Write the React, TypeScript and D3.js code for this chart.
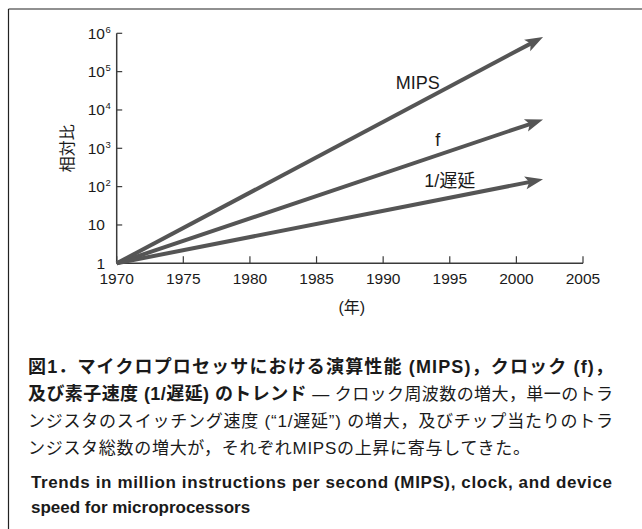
import React from "react";
import * as d3 from "d3";

// Trend series: growth relative to 1970, drawn as straight arrows on a log scale
const seriesNames = ["MIPS", "f", "1/遅延"];
const startYear = 1970;
const endYear = 2002;
const startValues = [1, 1, 1];
const endValues = [8e5, 5.6e3, 155];
// where each series label sits along its arrow (year), and how far above it
const labelYears = [1992.6, 1994.1, 1995];
const labelOffsets = [14, 9, 11];

const xTicks = [1970, 1975, 1980, 1985, 1990, 1995, 2000, 2005];
const yTickExps = [0, 1, 2, 3, 4, 5, 6];

const captionJaBold1 = "図1．マイクロプロセッサにおける演算性能 (MIPS)，クロック (f)，";
const captionJaBold2 = "及び素子速度 (1/遅延) のトレンド";
const captionJaRest2 = " ― クロック周波数の増大，単一のトラ";
const captionJaBody = [
  "ンジスタのスイッチング速度 (“1/遅延”) の増大，及びチップ当たりのトラ",
  "ンジスタ総数の増大が，それぞれMIPSの上昇に寄与してきた。",
];
const captionEn = [
  "Trends in million instructions per second (MIPS), clock, and device",
  "speed for microprocessors",
];

const W = 642;
const H = 529;
const SANS = "'Liberation Sans', Arial, Helvetica, sans-serif";
const CJK = "'Liberation Sans', 'Noto Sans CJK JP', sans-serif";
const AXIS = "#3a3a3a";
const ARROW = "#555555";
const INK = "#1a1a1a";

export default function App() {
  const x = d3.scaleLinear().domain([1970, 2005]).range([116.7, 583]);
  const y = d3.scaleLog().domain([1, 1e6]).range([263.3, 33.3]);
  const x0 = x.range()[0];
  const y0 = y.range()[0];

  const headLen = 18;
  const headHalf = 6.5;

  const arrows = seriesNames.map((name, i) => {
    const sx = x(startYear);
    const sy = y(startValues[i]);
    const tx = x(endYear);
    const ty = y(endValues[i]);
    const dx = tx - sx;
    const dy = ty - sy;
    const len = Math.hypot(dx, dy);
    const ux = dx / len;
    const uy = dy / len;
    const nx = -uy;
    const ny = ux;
    const bx = tx - ux * headLen;
    const by = ty - uy * headLen;
    const notchX = tx - ux * (headLen - 4);
    const notchY = ty - uy * (headLen - 4);
    const head = [
      [tx, ty],
      [bx + nx * headHalf, by + ny * headHalf],
      [notchX, notchY],
      [bx - nx * headHalf, by - ny * headHalf],
    ];
    const line = d3.line()([
      [sx, sy],
      [notchX + ux * 1, notchY + uy * 1],
    ]);
    // label position: on the arrow at labelYear, lifted by offset
    const lx = x(labelYears[i]);
    const t = (lx - sx) / dx;
    const ly = sy + t * dy - labelOffsets[i];
    return { name, line, head, lx, ly };
  });

  return (
    <svg
      width={W}
      height={H}
      viewBox={`0 0 ${W} ${H}`}
      style={{ position: "absolute", left: 0, top: 0, background: "#fff" }}
    >
      <rect x={0} y={0} width={W} height={H} fill="#fff" />
      {/* open frame: top and left rules */}
      <line x1={8.5} y1={9} x2={W} y2={9} stroke="#222" strokeWidth={1.2} />
      <line x1={8.5} y1={9} x2={8.5} y2={H} stroke="#222" strokeWidth={1.2} />

      {/* axes */}
      <line x1={x0} y1={y(1e6)} x2={x0} y2={y0} stroke={AXIS} strokeWidth={1.5} />
      <line x1={x0} y1={y0} x2={x(2005)} y2={y0} stroke={AXIS} strokeWidth={1.5} />
      {yTickExps.map((e) => {
        const v = Math.pow(10, e);
        const ty = y(v);
        return (
          <g key={"y" + e}>
            <line x1={x0} x2={x0 + 5.5} y1={ty} y2={ty} stroke={AXIS} strokeWidth={1.2} />
            <text
              x={105}
              y={ty + 5.5}
              textAnchor="end"
              fontFamily={SANS}
              fontSize={15.5}
              fill={INK}
            >
              {e === 0 ? "1" : "10"}
            </text>
            {e > 1 && (
              <text x={105.5} y={ty - 0.5} fontFamily={SANS} fontSize={9.5} fill={INK}>
                {String(e)}
              </text>
            )}
          </g>
        );
      })}
      {xTicks.map((yr) => (
        <g key={"x" + yr}>
          <line
            x1={x(yr)}
            x2={x(yr)}
            y1={y0}
            y2={y0 - 7}
            stroke={AXIS}
            strokeWidth={1.2}
          />
          <text
            x={x(yr)}
            y={284}
            textAnchor="middle"
            fontFamily={SANS}
            fontSize={15.5}
            fill={INK}
          >
            {yr}
          </text>
        </g>
      ))}
      <text
        x={(x(1970) + x(2005)) / 2 + 2}
        y={313}
        textAnchor="middle"
        fontFamily={CJK}
        fontSize={16}
        fill={INK}
      >
        (年)
      </text>
      <text
        transform={`translate(73,${(y(1) + y(1e6)) / 2}) rotate(-90)`}
        textAnchor="middle"
        fontFamily={CJK}
        fontSize={16}
        fill={INK}
      >
        相対比
      </text>

      {/* trend arrows */}
      {arrows.map((a) => (
        <g key={a.name}>
          <path d={a.line ?? ""} stroke={ARROW} strokeWidth={4} fill="none" />
          <polygon points={a.head.map((p) => p.join(",")).join(" ")} fill={ARROW} />
          <text
            x={a.lx}
            y={a.ly}
            textAnchor="middle"
            fontFamily={CJK}
            fontSize={18}
            fill={INK}
          >
            {a.name}
          </text>
        </g>
      ))}

      {/* caption */}
      <text
        x={28}
        y={373}
        fontFamily={CJK}
        fontSize={18}
        fontWeight="bold"
        fill={INK}
        textLength={585}
        lengthAdjust="spacing"
      >
        {captionJaBold1}
      </text>
      <text x={28} y={400} fontFamily={CJK} fontSize={18} fill={INK} textLength={585} lengthAdjust="spacing">
        <tspan fontWeight="bold">{captionJaBold2}</tspan>
        <tspan fontSize={17}>{captionJaRest2}</tspan>
      </text>
      <text
        x={28}
        y={427}
        fontFamily={CJK}
        fontSize={17}
        fill={INK}
        textLength={585}
        lengthAdjust="spacing"
      >
        {captionJaBody[0]}
      </text>
      <text x={28} y={454} fontFamily={CJK} fontSize={17} fill={INK} textLength={502} lengthAdjust="spacing">
        {captionJaBody[1]}
      </text>
      <text
        x={31}
        y={488}
        fontFamily={SANS}
        fontSize={17}
        fontWeight="bold"
        fill={INK}
        textLength={581}
        lengthAdjust="spacing"
      >
        {captionEn[0]}
      </text>
      <text x={31} y={513} fontFamily={SANS} fontSize={17} fontWeight="bold" fill={INK}>
        {captionEn[1]}
      </text>
    </svg>
  );
}
